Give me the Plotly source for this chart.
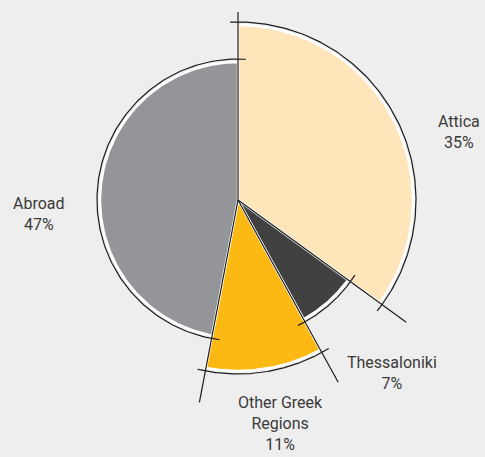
import numpy as np
import plotly.graph_objects as go

# Regional breakdown (shares in percent, clockwise from 12 o'clock)
regions = ["Attica", "Thessaloniki", "Other Greek Regions", "Abroad"]
shares = [35, 7, 11, 47]
label_texts = ["Attica<br>35%", "Thessaloniki<br>7%", "Other Greek<br>Regions<br>11%", "Abroad<br>47%"]

# Styling
colors = ["#FEE5BA", "#414141", "#FDB913", "#939598"]
radii = [175, 136, 171, 138]            # slice radius (px units)
spoke_len = [188, 208, 208, 206]         # length of each boundary line, starting at 0°
label_pos = [(221, 68), (154, -173), (42, -223), (-199, -14)]
ink = "#1b1b1b"
bg = "#EEEEEE"
arc_gap = 3
overshoot = 8

W, H = 485, 457
cx_px, cy_px = 238, 200

bounds = np.concatenate([[0], np.cumsum(shares)]) * 3.6  # degrees


def xy(r, theta_deg):
    t = np.radians(theta_deg)
    return r * np.sin(t), r * np.cos(t)


fig = go.Figure()

# filled wedges with white separators
for i, name in enumerate(regions):
    th = np.linspace(bounds[i], bounds[i + 1], 120)
    ax, ay = xy(radii[i], th)
    xs = np.concatenate([[0], ax, [0]])
    ys = np.concatenate([[0], ay, [0]])
    fig.add_trace(go.Scatter(
        x=xs, y=ys, mode="lines", fill="toself", fillcolor=colors[i],
        line=dict(color="white", width=2.5), hoverinfo="skip", showlegend=False,
        name=name,
    ))

# outer outline arcs, running slightly past each edge
for i in range(len(regions)):
    r = radii[i] + arc_gap
    ext = np.degrees(overshoot / r)
    th = np.linspace(bounds[i] - ext, bounds[i + 1] + ext, 150)
    ax, ay = xy(r, th)
    fig.add_trace(go.Scatter(
        x=ax, y=ay, mode="lines", line=dict(color=ink, width=1.2),
        hoverinfo="skip", showlegend=False,
    ))

# boundary spokes from the centre
for b, L in zip(bounds[:-1], spoke_len):
    ex, ey = xy(L, b)
    fig.add_trace(go.Scatter(
        x=[0, ex], y=[0, ey], mode="lines", line=dict(color=ink, width=1.2),
        hoverinfo="skip", showlegend=False,
    ))

for txt, (lx, ly) in zip(label_texts, label_pos):
    fig.add_annotation(
        x=lx, y=ly, xref="x", yref="y", text=txt, showarrow=False,
        align="center", xanchor="center", yanchor="middle",
        font=dict(family="Roboto", size=16, color="#3a3a3a"),
    )

fig.update_xaxes(range=[-cx_px, W - cx_px], visible=False, fixedrange=True)
fig.update_yaxes(range=[-(H - cy_px), cy_px], visible=False, fixedrange=True)
fig.update_layout(
    width=W, height=H, margin=dict(l=0, r=0, t=0, b=0),
    paper_bgcolor=bg, plot_bgcolor=bg, showlegend=False,
)

fig.write_html("out.html", config={"displayModeBar": False})
